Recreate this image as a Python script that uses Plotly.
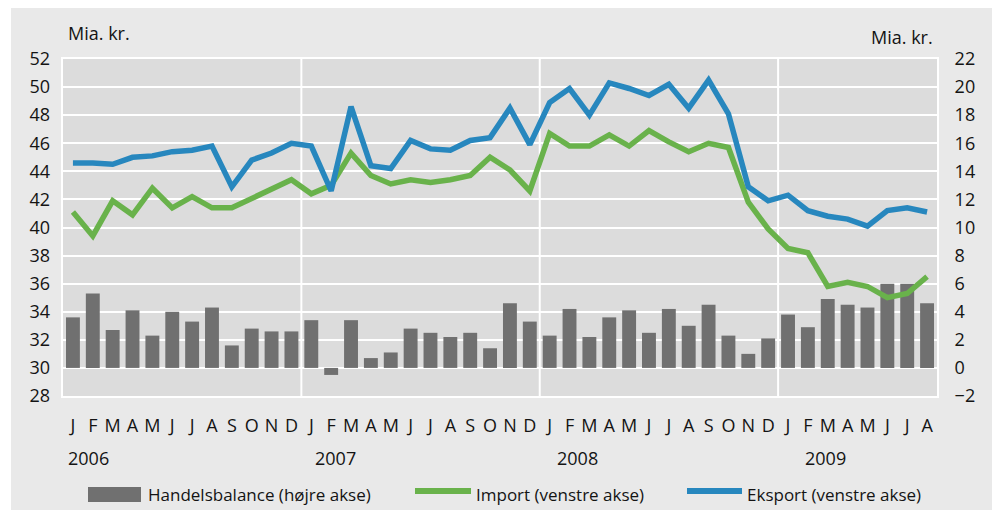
import plotly.graph_objects as go

# ---- data ----
months = ["J", "F", "M", "A", "M", "J", "J", "A", "S", "O", "N", "D"] * 3 + ["J", "F", "M", "A", "M", "J", "J", "A"]
years = ["2006", "2007", "2008", "2009"]
year_label_pos = [0.8, 13.2, 25.4, 37.9]

eksport = [44.6, 44.6, 44.5, 45.0, 45.1, 45.4, 45.5, 45.8, 42.9, 44.8, 45.3, 46.0,
           45.8, 42.6, 48.6, 44.4, 44.2, 46.2, 45.6, 45.5, 46.2, 46.4, 48.5, 45.9,
           48.9, 49.9, 48.0, 50.3, 49.9, 49.4, 50.2, 48.5, 50.5, 48.1, 42.9, 41.9,
           42.3, 41.2, 40.8, 40.6, 40.1, 41.2, 41.4, 41.1]
importv = [41.1, 39.4, 41.9, 40.9, 42.8, 41.4, 42.2, 41.4, 41.4, 42.1, 42.8, 43.4,
           42.4, 43.0, 45.3, 43.7, 43.1, 43.4, 43.2, 43.4, 43.7, 45.0, 44.1, 42.6,
           46.7, 45.8, 45.8, 46.6, 45.8, 46.9, 46.1, 45.4, 46.0, 45.7, 41.8, 39.9,
           38.5, 38.2, 35.8, 36.1, 35.8, 35.0, 35.3, 36.5]
handelsbalance = [3.6, 5.3, 2.7, 4.1, 2.3, 4.0, 3.3, 4.3, 1.6, 2.8, 2.6, 2.6,
                  3.4, -0.5, 3.4, 0.7, 1.1, 2.8, 2.5, 2.2, 2.5, 1.4, 4.6, 3.3,
                  2.3, 4.2, 2.2, 3.6, 4.1, 2.5, 4.2, 3.0, 4.5, 2.3, 1.0, 2.1,
                  3.8, 2.9, 4.9, 4.5, 4.3, 6.0, 6.0, 4.6]
year_boundaries = [11.5, 23.5, 35.5]
series_names = ["Handelsbalance (højre akse)", "Import (venstre akse)", "Eksport (venstre akse)"]

x = list(range(len(months)))

FONT = "Open Sans"
TXT = "#141414"
BLUE = "#2787be"
GREEN = "#69b24b"
BAR = "#707070"

# page offset (body margin) and plot-area geometry in page pixels
OFF = 8
FW, FH = 1000 - OFF, 510 - OFF
L, R, T, B = 63, 937, 59, 396
W, H = R - L, B - T


def px(xp):
    return (xp - L) / W


def py(yp):
    return (B - yp) / H


fig = go.Figure()
fig.add_trace(go.Bar(x=x, y=handelsbalance, yaxis="y", marker=dict(color=BAR, line=dict(width=0)),
                     width=0.7, name=series_names[0], showlegend=False))
fig.add_trace(go.Scatter(x=x, y=importv, yaxis="y2", mode="lines",
                         line=dict(color=GREEN, width=5.5), name=series_names[1], showlegend=False))
fig.add_trace(go.Scatter(x=x, y=eksport, yaxis="y2", mode="lines",
                         line=dict(color=BLUE, width=5.5), name=series_names[2], showlegend=False))

fig.update_layout(
    width=FW, height=FH,
    margin=dict(l=L - OFF, r=1000 - R, t=T - OFF, b=510 - B, autoexpand=False),
    paper_bgcolor="#e9e9e9",
    plot_bgcolor="#dcdcdc",
    font=dict(family=FONT, size=17, color=TXT),
    bargap=0.3,
    showlegend=False,
    xaxis=dict(range=[-0.5, len(months) - 0.5], tickmode="array", tickvals=x, ticktext=months,
               showgrid=False, zeroline=False, ticks="", ticklabelstandoff=12,
               showline=True, linecolor="white", linewidth=2, mirror=True,
               tickfont=dict(size=18, color=TXT)),
    yaxis=dict(side="right", range=[-2, 22], dtick=2, tick0=0, showgrid=True, gridcolor="white",
               gridwidth=2, zeroline=False, ticks="", ticklabelstandoff=12,
               showline=True, linecolor="white", linewidth=2, mirror=True,
               tickfont=dict(size=18, color=TXT)),
    yaxis2=dict(side="left", overlaying="y", range=[28, 52], dtick=2, tick0=28, showgrid=False,
                zeroline=False, ticks="", ticklabelstandoff=12,
                tickfont=dict(size=18, color=TXT)),
)

# vertical year separators
for b in year_boundaries:
    fig.add_shape(type="line", xref="x", yref="y domain", x0=b, x1=b, y0=0, y1=1,
                  line=dict(color="white", width=2), layer="below")

# thin white strip at the left edge
fig.add_shape(type="rect", xref="paper", yref="paper", x0=px(0), x1=px(11), y0=py(600), y1=py(-50),
              fillcolor="white", line=dict(width=0), layer="below")

# unit labels
fig.add_annotation(text="Mia. kr.", xref="paper", yref="paper", x=px(66), y=py(33),
                   xanchor="left", yanchor="middle", showarrow=False, font=dict(size=18, color=TXT))
fig.add_annotation(text="Mia. kr.", xref="paper", yref="paper", x=px(935), y=py(37),
                   xanchor="right", yanchor="middle", showarrow=False, font=dict(size=18, color=TXT))

# year labels
for yl, xp in zip(years, year_label_pos):
    fig.add_annotation(text=yl, xref="x", yref="paper", x=xp, y=py(458),
                       xanchor="center", yanchor="middle", showarrow=False, font=dict(size=18, color=TXT))

# legend (drawn as key symbols + labels)
fig.add_shape(type="rect", xref="paper", yref="paper", x0=px(88), x1=px(141), y0=py(502), y1=py(487),
              fillcolor=BAR, line=dict(width=0), layer="above")
fig.add_shape(type="line", xref="paper", yref="paper", x0=px(415), x1=px(471), y0=py(491), y1=py(491),
              line=dict(color=GREEN, width=6), layer="above")
fig.add_shape(type="line", xref="paper", yref="paper", x0=px(687), x1=px(742), y0=py(491), y1=py(491),
              line=dict(color=BLUE, width=6), layer="above")
for name, xs in zip(series_names, [146, 474, 745]):
    fig.add_annotation(text=name, xref="paper", yref="paper", x=px(xs), y=py(494),
                       xanchor="left", yanchor="middle", showarrow=False, font=dict(size=17, color=TXT))

fig.write_html("out.html")
